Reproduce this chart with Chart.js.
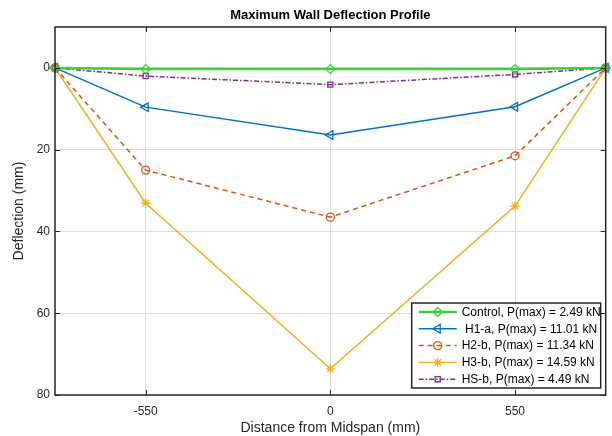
<!DOCTYPE html>
<html>
<head>
<meta charset="utf-8">
<script src="https://cdn.jsdelivr.net/npm/chart.js@4/dist/chart.umd.min.js"></script>
<style>
  html, body { margin: 0; padding: 0; background: #fff; }
  #wrap { width: 612px; height: 436px; }
</style>
</head>
<body>
<div id="wrap"><canvas id="c"></canvas></div>
<script>
// distance from midspan (mm)
const xPositions = [-820, -550, 0, 550, 820];
const xTicks = [-550, 0, 550];
const yTicks = [0, 20, 40, 60, 80];

// deflection (mm) at each position
const controlDefl = [0, 0.3, 0.3, 0.3, 0];
const h1aDefl = [0, 9.6, 16.4, 9.5, 0];
const h2bDefl = [0, 25.0, 36.5, 21.5, 0];
const h3bDefl = [0, 33.1, 73.6, 33.8, 0];
const hsbDefl = [0, 2.0, 4.1, 1.6, 0];

const seriesLabels = [
  'Control, P(max) = 2.49 kN',
  ' H1-a, P(max) = 11.01 kN',
  'H2-b, P(max) = 11.34 kN',
  'H3-b, P(max) = 14.59 kN',
  'HS-b, P(max) = 4.49 kN'
];

const FONT = "'Liberation Sans', Arial, Helvetica, sans-serif";
const AXIS = '#262626';

function pts(ys) {
  return xPositions.map((x, i) => ({ x: x, y: ys[i] }));
}

function ds(label, ys, color, style, opts) {
  return Object.assign({
    label: label,
    data: pts(ys),
    borderColor: color,
    backgroundColor: 'rgba(0,0,0,0)',
    pointBorderColor: color,
    pointBackgroundColor: 'rgba(0,0,0,0)',
    pointStyle: style,
    pointRadius: 4,
    pointBorderWidth: 1.3,
    borderWidth: 1.5,
    tension: 0,
    clip: false
  }, opts || {});
}

const datasets = [
  ds(seriesLabels[0], controlDefl, '#44cc3a', 'rectRot', { borderWidth: 2.5, pointRadius: 4.5 }),
  ds(seriesLabels[1], h1aDefl, '#0072bd', 'triangle', { pointRotation: -90, pointRadius: 5 }),
  ds(seriesLabels[2], h2bDefl, '#d95319', 'circle', { borderDash: [5, 4] }),
  ds(seriesLabels[3], h3bDefl, '#edb120', 'star', { pointRadius: 4.5 }),
  ds(seriesLabels[4], hsbDefl, '#7e2f8e', 'rect', { borderDash: [5, 2, 1.5, 2], pointRadius: 3.6 })
];

// box round the plot with inward tick marks, plus title and axis titles
const boxPlugin = {
  id: 'box',
  afterDatasetsDraw(chart) {
    const { ctx, chartArea: a, scales } = chart;
    ctx.save();
    ctx.strokeStyle = AXIS;
    ctx.lineWidth = 1;
    ctx.beginPath();
    xTicks.forEach(v => {
      const px = Math.round(scales.x.getPixelForValue(v)) + 0.5;
      ctx.moveTo(px, a.bottom); ctx.lineTo(px, a.bottom - 5);
      ctx.moveTo(px, a.top); ctx.lineTo(px, a.top + 5);
    });
    yTicks.forEach(v => {
      const py = Math.round(scales.y.getPixelForValue(v)) + 0.5;
      ctx.moveTo(a.left, py); ctx.lineTo(a.left + 5, py);
      ctx.moveTo(a.right, py); ctx.lineTo(a.right - 5, py);
    });
    ctx.stroke();
    ctx.lineWidth = 1.5;
    ctx.strokeRect(a.left, a.top, a.right - a.left, a.bottom - a.top);

    const cx = (a.left + a.right) / 2;
    ctx.textAlign = 'center';
    ctx.textBaseline = 'middle';
    ctx.fillStyle = '#000';
    ctx.font = 'bold 13px ' + FONT;
    ctx.fillText('Maximum Wall Deflection Profile', cx, 15);

    ctx.fillStyle = AXIS;
    ctx.font = '14px ' + FONT;
    ctx.fillText('Distance from Midspan (mm)', cx, 428);
    ctx.translate(19, (a.top + a.bottom) / 2);
    ctx.rotate(-Math.PI / 2);
    ctx.fillText('Deflection (mm)', 0, 0);
    ctx.restore();
  }
};

// legend box inside the lower right corner
const legendPlugin = {
  id: 'boxLegend',
  afterDraw(chart) {
    const { ctx, chartArea: a } = chart;
    const w = 189, h = 85, rowH = 16.8;
    const left = a.right - 5 - w, top = a.bottom - 7 - h;
    ctx.save();
    ctx.fillStyle = '#fff';
    ctx.fillRect(left, top, w, h);
    ctx.strokeStyle = AXIS;
    ctx.lineWidth = 1.5;
    ctx.strokeRect(left, top, w, h);
    ctx.font = '12px ' + FONT;
    ctx.textBaseline = 'middle';
    ctx.textAlign = 'left';
    chart.data.datasets.forEach((d, i) => {
      const y = top + 9 + i * rowH;
      ctx.strokeStyle = d.borderColor;
      ctx.lineWidth = d.borderWidth;
      ctx.setLineDash(d.borderDash || []);
      ctx.beginPath();
      ctx.moveTo(left + 7, y);
      ctx.lineTo(left + 45, y);
      ctx.stroke();
      ctx.setLineDash([]);
      ctx.lineWidth = d.pointBorderWidth;
      ctx.fillStyle = 'rgba(0,0,0,0)';
      Chart.helpers.drawPoint(ctx, {
        pointStyle: d.pointStyle,
        rotation: d.pointRotation || 0,
        radius: d.pointRadius,
        borderWidth: d.pointBorderWidth
      }, left + 26, y);
      ctx.fillStyle = '#000';
      ctx.fillText(d.label, left + 50, y + 0.5);
    });
    ctx.restore();
  }
};

new Chart(document.getElementById('c'), {
  type: 'line',
  data: { datasets: datasets },
  options: {
    responsive: true,
    maintainAspectRatio: false,
    animation: false,
    layout: { padding: { top: 27, right: 5, left: 0, bottom: 0 } },
    plugins: {
      legend: { display: false },
      tooltip: { enabled: false }
    },
    scales: {
      x: {
        type: 'linear',
        min: -820,
        max: 820,
        afterBuildTicks: s => { s.ticks = xTicks.map(v => ({ value: v })); },
        afterFit: s => { s.height = 41; },
        border: { display: false },
        grid: { color: '#dcdcdc', drawTicks: false },
        ticks: { color: AXIS, font: { family: FONT, size: 12 }, padding: 9 }
      },
      y: {
        reverse: true,
        min: -10,
        max: 80,
        afterBuildTicks: s => { s.ticks = yTicks.map(v => ({ value: v })); },
        afterFit: s => { s.width = 55; },
        border: { display: false },
        grid: { color: '#dcdcdc', drawTicks: false },
        ticks: { color: AXIS, font: { family: FONT, size: 12 }, padding: 5 }
      }
    }
  },
  plugins: [boxPlugin, legendPlugin]
});
</script>
</body>
</html>
